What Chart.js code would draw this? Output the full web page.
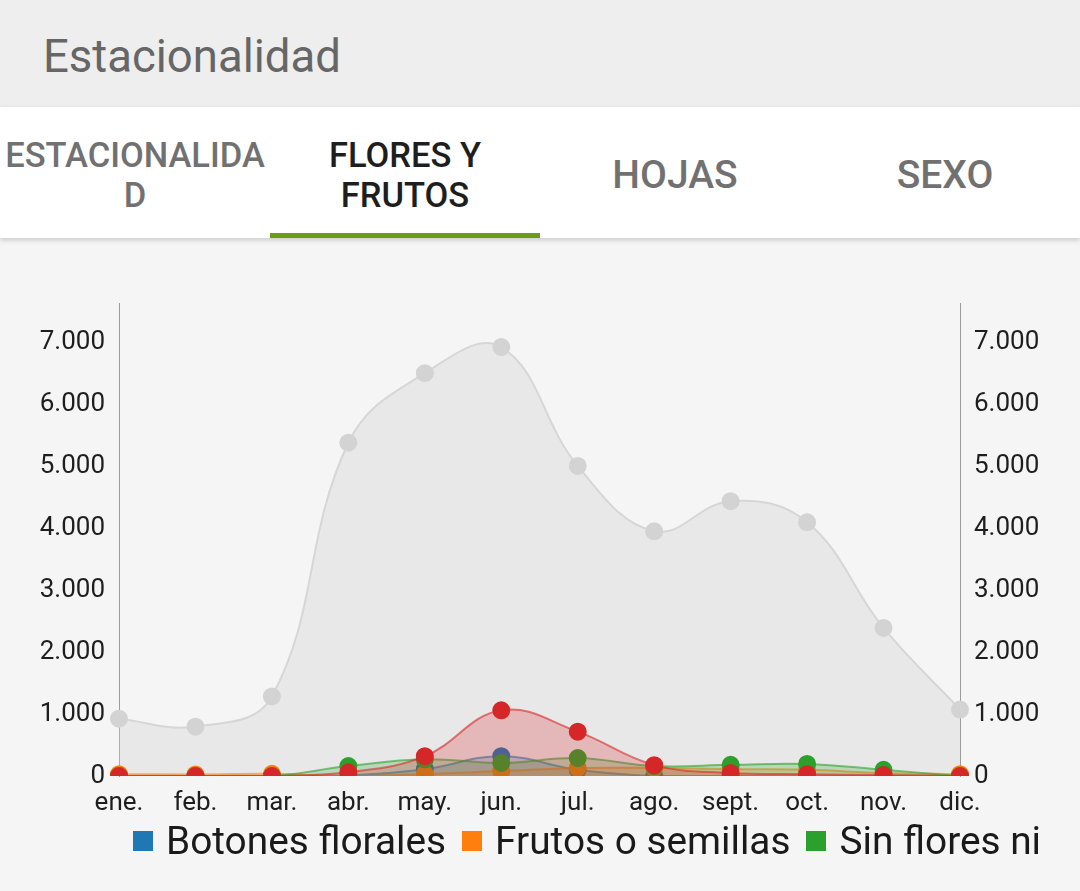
<!DOCTYPE html>
<html>
<head>
<meta charset="utf-8">
<script src="https://cdn.jsdelivr.net/npm/chart.js@4"></script>
<style>
  html, body { margin: 0; padding: 0; width: 1080px; height: 891px; overflow: hidden; background: #f5f5f5; font-family: Roboto, sans-serif; }
  #title { position: absolute; left: 0; top: 0; width: 1080px; height: 107px; background: #eeeeee; }
  #title span { position: absolute; left: 43px; top: 30px; font-size: 45.5px; color: #666; }
  #tabs { position: absolute; left: 0; top: 107px; width: 1080px; height: 131px; background: #fff; box-shadow: 0 2px 5px rgba(0,0,0,0.18); }
  .tab { position: absolute; top: 2px; width: 270px; height: 131px; display: flex; align-items: center; justify-content: center; text-align: center; font-size: 34.5px; font-weight: 500; color: #717171; line-height: 40px; }
  .tab.big { font-size: 39px; }
  .tab.on { color: #1e1e1e; }
  #bar { position: absolute; left: 270px; top: 126px; width: 270px; height: 5px; background: #6d9a1a; }
  #wrap { position: absolute; left: 0; top: 250px; width: 1080px; height: 570px; }
  #legend { position: absolute; left: 133px; top: 818px; width: 910px; height: 50px; overflow: hidden; white-space: nowrap; font-size: 38.8px; color: #1a1a1a; }
  #legend span.sw { display: inline-block; width: 20px; height: 20px; margin-right: 13px; vertical-align: 3px; }
  #legend span.tx { margin-right: 16px; }
</style>
</head>
<body>
<div id="title"><span>Estacionalidad</span></div>
<div id="tabs">
  <div class="tab" style="left:0">ESTACIONALIDA<br>D</div>
  <div class="tab on" style="left:270px">FLORES Y<br>FRUTOS</div>
  <div class="tab big" style="left:540px">HOJAS</div>
  <div class="tab big" style="left:810px">SEXO</div>
  <div id="bar"></div>
</div>
<div id="wrap"><canvas id="myChart"></canvas></div>
<div id="legend"></div>
<script>
const months = ['ene.', 'feb.', 'mar.', 'abr.', 'may.', 'jun.', 'jul.', 'ago.', 'sept.', 'oct.', 'nov.', 'dic.'];

const seriesNames = ['Botones florales', 'Frutos o semillas', 'Sin flores ni frutos', 'Flores', 'Total'];
const seriesColors = ['#1f77b4', '#ff7f0e', '#2ca02c', '#d62728', '#d3d3d3'];

const botones = [0, 0, 0, 10, 110, 320, 100, 0, 0, 0, 0, 0];
const frutos = [30, 25, 35, 0, 30, 80, 130, 130, 110, 100, 50, 30];
const sinFlores = [0, 0, 0, 160, 270, 210, 290, 160, 180, 195, 100, 0];
const flores = [0, 0, 0, 60, 320, 1060, 715, 175, 50, 30, 15, 0];
const total = [925, 795, 1283, 5376, 6497, 6919, 5002, 3947, 4434, 4093, 2388, 1072];

const yTicks = [0, 1000, 2000, 3000, 4000, 5000, 6000, 7000];

function miles(v) {
  return String(v).replace(/\B(?=(\d{3})+(?!\d))/g, '.');
}

function rgba(hex, a) {
  const n = parseInt(hex.slice(1), 16);
  return 'rgba(' + (n >> 16) + ',' + ((n >> 8) & 255) + ',' + (n & 255) + ',' + a + ')';
}

const values = [botones, frutos, sinFlores, flores, total];
const drawOrder = [4, 3, 2, 1, 5]; // red on top, gray at the back

const datasets = values.map((d, i) => ({
  label: seriesNames[i],
  data: d,
  order: drawOrder[i],
  borderColor: i === 4 ? '#d6d6d6' : rgba(seriesColors[i], 0.6),
  backgroundColor: i === 4 ? 'rgba(211,211,211,0.36)' : rgba(seriesColors[i], 0.25),
  pointBackgroundColor: seriesColors[i],
  pointBorderColor: seriesColors[i],
  pointRadius: 8,
  borderWidth: 2,
  tension: 0.4,
  fill: 'origin'
}));

const tickFont = { family: 'Roboto', size: 26 };

function yAxis(pos) {
  return {
    position: pos,
    min: 0,
    max: 7630,
    afterBuildTicks: s => { s.ticks = yTicks.map(v => ({ value: v })); },
    afterFit: s => { s.width = pos === 'left' ? 119 : 120; },
    grid: { display: false, drawTicks: false },
    border: { display: true, color: '#9a9a9a', width: 1 },
    ticks: { color: '#1e1e1e', font: tickFont, padding: 14, callback: v => miles(v) }
  };
}

const ctx = document.getElementById('myChart').getContext('2d');

const myChart = new Chart(ctx, {
  type: 'line',
  data: { labels: months, datasets: datasets },
  options: {
    responsive: true,
    maintainAspectRatio: false,
    animation: false,
    layout: { padding: { top: 53, left: 0, right: 0, bottom: 0 } },
    plugins: { legend: { display: false }, tooltip: { enabled: false } },
    scales: {
      x: {
        grid: { display: false, drawTicks: false },
        border: { display: false },
        afterFit: s => { s.height = 44; },
        ticks: { color: '#1e1e1e', font: tickFont, padding: 12, maxRotation: 0, autoSkip: false }
      },
      y: yAxis('left'),
      y2: yAxis('right')
    }
  }
});

// legend built from the same names and colours
const legend = document.getElementById('legend');
seriesNames.forEach((name, i) => {
  legend.insertAdjacentHTML('beforeend',
    '<span class="sw" style="background:' + seriesColors[i] + '"></span><span class="tx">' + name + '</span>');
});
</script>
</body>
</html>
